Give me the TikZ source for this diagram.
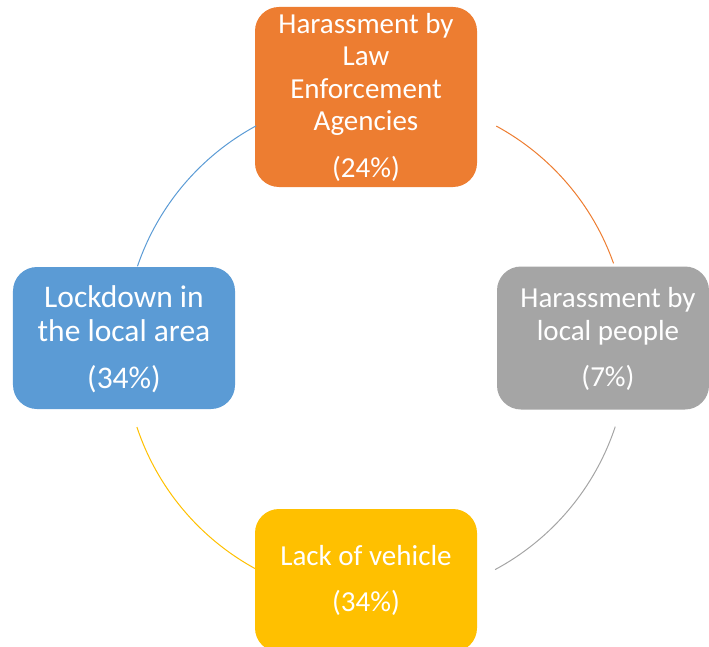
\documentclass[tikz,border=0pt]{standalone}
\usepackage{fontspec}
\setmainfont{Carlito}
\definecolor{orangeC}{HTML}{ED7D31}
\definecolor{grayC}{HTML}{A5A5A5}
\definecolor{blueC}{HTML}{5B9BD5}
\definecolor{yellowC}{HTML}{FFC000}
\begin{document}
\begin{tikzpicture}[x=1bp,y=-1bp,
  box/.style={rounded corners=24bp, draw=none, inner sep=0pt, text=white, align=center,
    font=\fontsize{29bp}{32.5bp}\selectfont},
  txt/.style={inner sep=0pt, text=white, align=center, font=\fontsize{29bp}{32.5bp}\selectfont},
  link/.style={line width=1bp}]
\useasboundingbox (0,0) rectangle (709,647);
\clip (0,0) rectangle (709,647);
\node[box, fill=orangeC, minimum width=222bp, minimum height=180bp] (law) at (366,97)
  {Harassment by\\Law\\Enforcement\\Agencies\\[14bp](24\%)};
\node[box, fill=grayC, minimum width=212bp, minimum height=143bp] (local) at (603,338) {};
\node[txt] (localtext) at (608,339) {Harassment by\\local people\\[14bp](7\%)};
\node[box, fill=yellowC, minimum width=222bp, minimum height=143bp] (veh) at (366,580.5)
  {Lack of vehicle\\[14bp](34\%)};
\node[box, fill=blueC, minimum width=222bp, minimum height=142bp] (lock) at (124,338) {};
\node[txt, font=\fontsize{31.5bp}{33.5bp}\selectfont] (locktext) at (124,339.5)
  {Lockdown in\\the local area\\[14bp](34\%)};
\coordinate (c) at (376,347.5);
\draw[link, blueC] ([shift={(c)}]161.2:252bp) arc[start angle=161.2, end angle=118.4, radius=252bp];
\draw[link, orangeC] ([shift={(c)}]61.5:252bp) arc[start angle=61.5, end angle=19.5, radius=252bp];
\draw[link, grayC] ([shift={(c)}]-18.3:252bp) arc[start angle=-18.3, end angle=-61.8, radius=252bp];
\draw[link, yellowC] ([shift={(c)}]-118.6:252bp) arc[start angle=-118.6, end angle=-161.6, radius=252bp];
\end{tikzpicture}
\end{document}
